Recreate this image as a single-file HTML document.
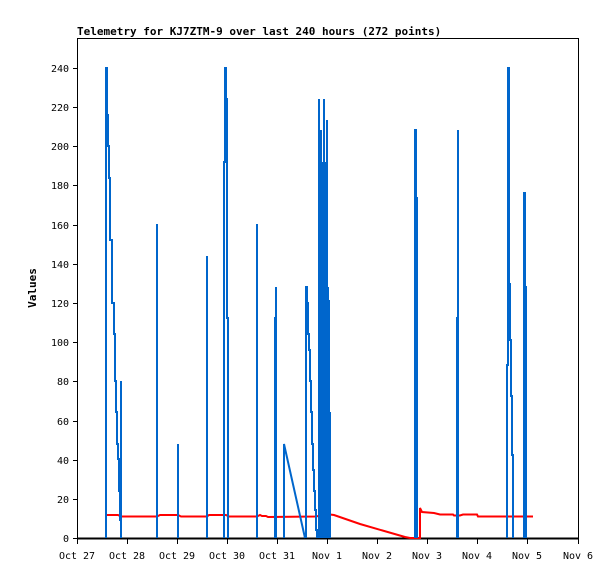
<!DOCTYPE html>
<html><head><style>
body{margin:0;background:#fff;}
svg{display:block;font-family:"DejaVu Sans Mono","Liberation Mono",monospace;}
</style></head><body>
<svg width="615" height="579" viewBox="0 0 615 579" xmlns="http://www.w3.org/2000/svg">
<rect width="615" height="579" fill="#fff"/>
<text x="77" y="35" font-size="11" font-weight="bold" fill="#000">Telemetry for KJ7ZTM-9 over last 240 hours (272 points)</text>
<rect x="77.5" y="38.5" width="501" height="500" fill="none" stroke="#000" stroke-width="1"/>
<line x1="77" y1="538.5" x2="578" y2="538.5" stroke="#000" stroke-width="2"/>
<g stroke="#000" stroke-width="1" shape-rendering="crispEdges">
<line x1="73" y1="538.5" x2="77" y2="538.5"/><line x1="73" y1="499.5" x2="77" y2="499.5"/><line x1="73" y1="460.5" x2="77" y2="460.5"/><line x1="73" y1="421.5" x2="77" y2="421.5"/><line x1="73" y1="381.5" x2="77" y2="381.5"/><line x1="73" y1="342.5" x2="77" y2="342.5"/><line x1="73" y1="303.5" x2="77" y2="303.5"/><line x1="73" y1="264.5" x2="77" y2="264.5"/><line x1="73" y1="225.5" x2="77" y2="225.5"/><line x1="73" y1="185.5" x2="77" y2="185.5"/><line x1="73" y1="146.5" x2="77" y2="146.5"/><line x1="73" y1="107.5" x2="77" y2="107.5"/><line x1="73" y1="68.5" x2="77" y2="68.5"/>
<line x1="77.5" y1="538" x2="77.5" y2="544"/><line x1="127.5" y1="538" x2="127.5" y2="544"/><line x1="177.5" y1="538" x2="177.5" y2="544"/><line x1="227.5" y1="538" x2="227.5" y2="544"/><line x1="277.5" y1="538" x2="277.5" y2="544"/><line x1="327.5" y1="538" x2="327.5" y2="544"/><line x1="377.5" y1="538" x2="377.5" y2="544"/><line x1="427.5" y1="538" x2="427.5" y2="544"/><line x1="477.5" y1="538" x2="477.5" y2="544"/><line x1="527.5" y1="538" x2="527.5" y2="544"/><line x1="578.5" y1="538" x2="578.5" y2="544"/>
</g>
<g font-size="10" fill="#000" text-anchor="end">
<text x="69" y="542">0</text><text x="69" y="503">20</text><text x="69" y="464">40</text><text x="69" y="425">60</text><text x="69" y="385">80</text><text x="69" y="346">100</text><text x="69" y="307">120</text><text x="69" y="268">140</text><text x="69" y="229">160</text><text x="69" y="189">180</text><text x="69" y="150">200</text><text x="69" y="111">220</text><text x="69" y="72">240</text>
</g>
<g font-size="10" fill="#000" text-anchor="middle">
<text x="77" y="559">Oct 27</text><text x="127" y="559">Oct 28</text><text x="177" y="559">Oct 29</text><text x="227" y="559">Oct 30</text><text x="277" y="559">Oct 31</text><text x="327" y="559">Nov 1</text><text x="377" y="559">Nov 2</text><text x="427" y="559">Nov 3</text><text x="477" y="559">Nov 4</text><text x="527" y="559">Nov 5</text><text x="578" y="559">Nov 6</text>
</g>
<text transform="translate(36,288) rotate(-90)" font-size="11" font-weight="bold" text-anchor="middle">Values</text>
<polyline fill="none" stroke="#ff0000" stroke-width="2" points="105,515 118,515 121,516.5 157,516.5 160,515 178,515 181,516.5 207,516.5 209,515 226,515 229,516.5 257,516.5 260,515 262,516 266,516 268,517 315,516.5 330,514.5 334,515 360,524 405,537 410,538 420,538 420,508 422,512 434,513 440,514.5 453,514.5 454,515.5 460,515.5 463,514.5 477,514.5 478,516.5 533,516.5"/>
<path fill="none" stroke="#0066cc" stroke-width="2" stroke-linejoin="miter" d="M106,538 V68 H107 V115 H108 V146 H109 V178 H110 V240 H112 V303 H114 V334 H115 V381 H116 V412 H117 V444 H118 V459 H119 V491 H120 V520 H121 V381 V538
M157,538 V224 V538 M178,538 V444 V538 M207,538 V256 V538
M224,538 V162 H225 V68 H226 V99 H227 V318 H228 V538
M257,538 V224 V538 M275,538 V318 H276 V287 V538
M284,538 V444 L305,538 M306,538 V287 H307 V303 H308 V334 H309 V350 H310 V381 H311 V412 H312 V444 H313 V470 H314 V491 H315 V510 H316 V530 H317 V538
M319,538 V99 V538 M320,538 V303 V538 M321,538 V130 V538 M322,538 V209 V538 M323,538 V162 V538 M324,538 V99 V538 M325,538 V162 V538 M326,538 V193 V538 M327,538 V120 V538 M328,538 V287 V538 M329,538 V300 V538 M330,538 V412 V538
M415,538 V130 H416 V198 H417 V334 V538
M457,538 V318 H458 V130 V538
M507,538 V365 H508 V68 H509 V284 H510 V340 H511 V396 H512 V455 H513 V510 V538
M524,538 V193 H525 V287 H526 V506 V538"/>
</svg>
</body></html>
